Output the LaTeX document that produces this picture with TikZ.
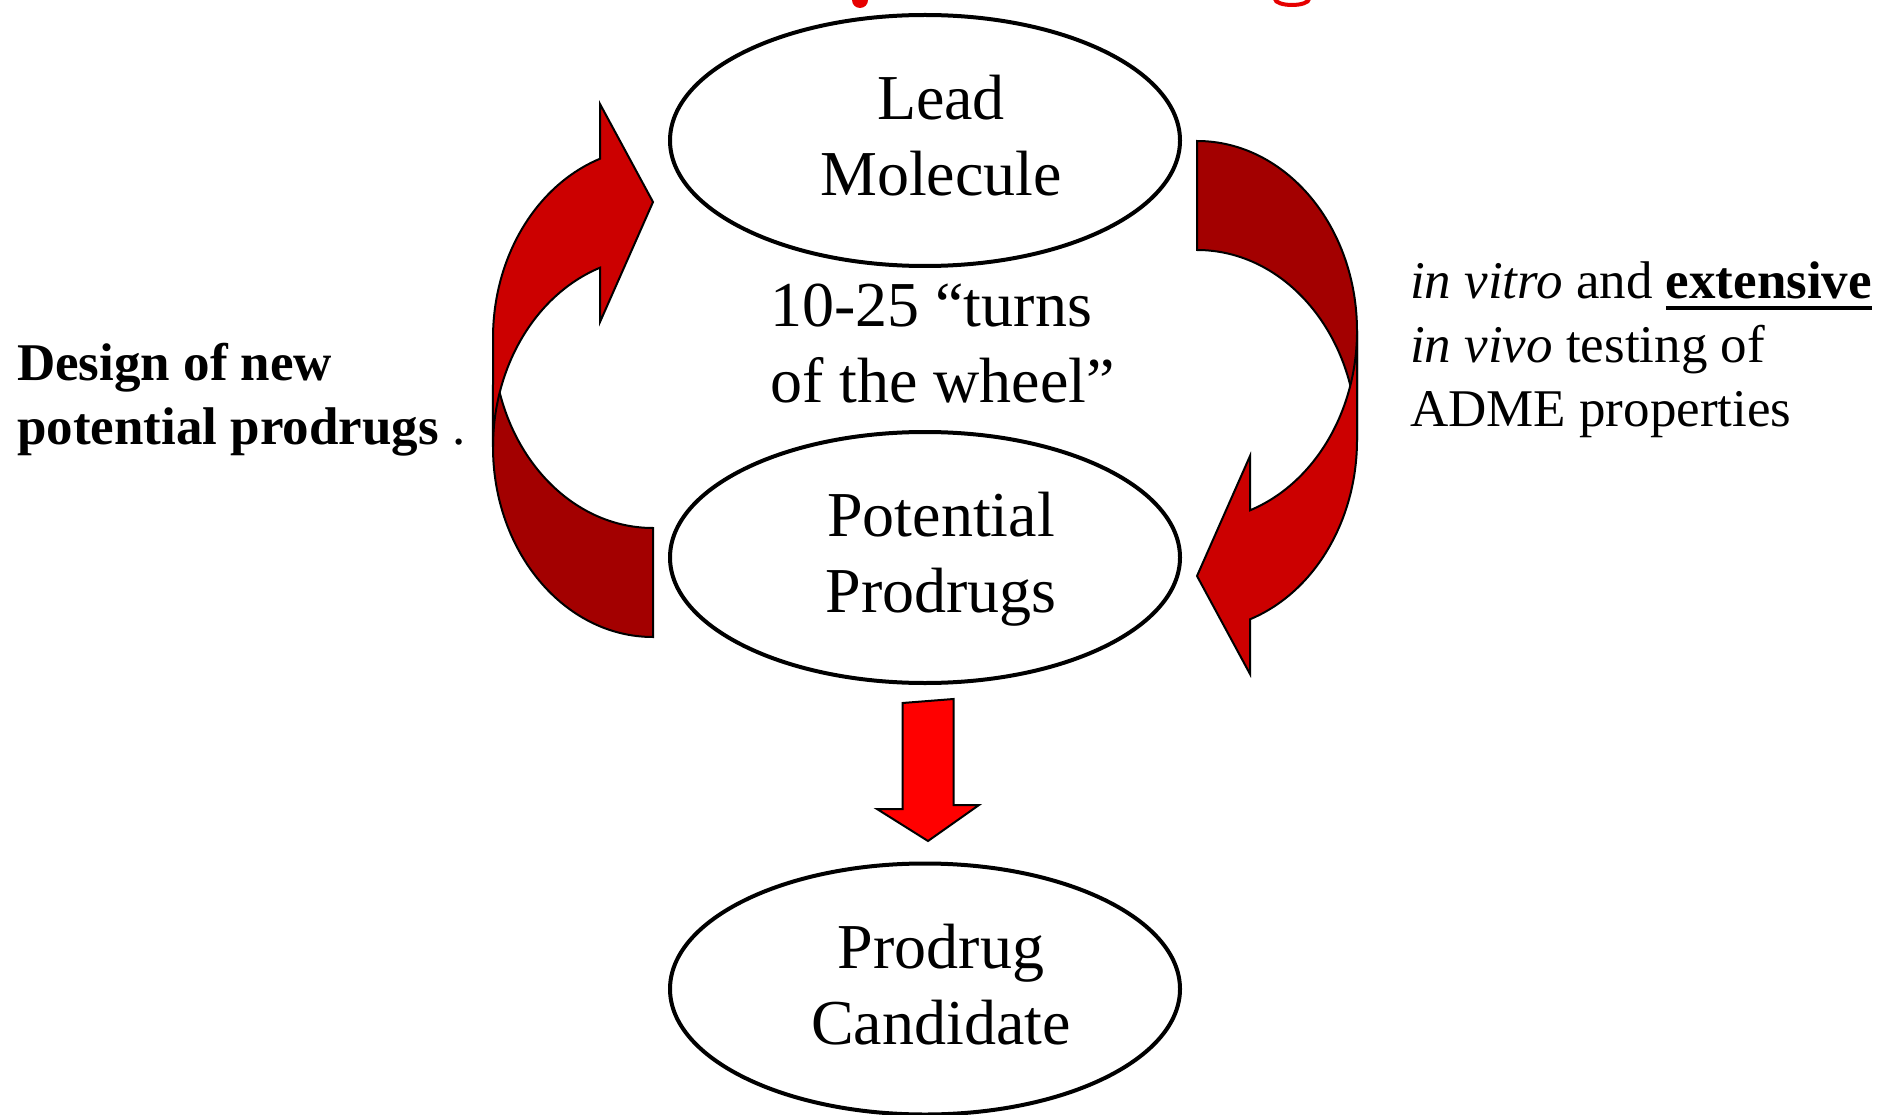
\documentclass[tikz,border=0pt]{standalone}
\usepackage{fontspec}
\setmainfont{Liberation Serif}
\usetikzlibrary{shapes.geometric,calc}
\definecolor{frontred}{RGB}{204,0,0}
\definecolor{backred}{RGB}{163,0,0}
\definecolor{downred}{RGB}{255,0,0}
\definecolor{titlered}{RGB}{230,0,0}
\newcommand\thickul[1]{\setbox0\hbox{#1}\rlap{\rule[-11pt]{\wd0}{4pt}}#1}
\newcommand\cyclearrow{%
  \draw[bandback] (653,-637) arc[start angle=270,end angle=180,x radius=160,y radius=190]
     -- (493,-338) arc[start angle=180,end angle=270,x radius=160,y radius=190] -- cycle;
  \draw[bandfront] (493,-338) arc[start angle=180,end angle=109.34,x radius=160,y radius=190]
     -- (600,-104) -- (653,-202) -- (600,-322) -- (600,-267.7)
     arc[start angle=109.34,end angle=180,x radius=160,y radius=190] -- cycle;}
\begin{document}
\begin{tikzpicture}[x=1pt,y=1pt,
  oval/.style={ellipse, draw, line width=4pt, minimum width=510pt, minimum height=251pt, inner sep=0pt},
  bigtxt/.style={font=\fontsize{64}{76}\selectfont, align=center, inner sep=0pt},
  sidetxt/.style={font=\fontsize{53}{64}\selectfont, align=left, inner sep=0pt, anchor=west},
  bandfront/.style={fill=frontred, draw=black, line width=2pt, line join=miter},
  bandback/.style={fill=backred, draw=black, line width=2pt},
  blockarrow/.style={fill=downred, draw=black, line width=2pt, line join=miter}]
\fill[white] (0,0) rectangle (1882,-1115);
\useasboundingbox (0,0) rectangle (1882,-1115);
% fragments of the cut-off title
\fill[titlered] (852,0) arc[start angle=180,end angle=360,x radius=8,y radius=8] -- cycle;
\draw[titlered, line width=4pt] (1275,1) arc[start angle=180,end angle=360,x radius=17,y radius=6];
% curved arrows
\begin{scope}
  \cyclearrow
\end{scope}
\begin{scope}[rotate around={180:(925,-389)}]
  \cyclearrow
\end{scope}
% ellipses
\node[oval] (lead) at (925,-140.5) {};
\node[oval] (pp) at (925,-557.5) {};
\node[oval] (pc) at (925,-989) {};
\node[bigtxt] (leadtxt) at (941,-136) {Lead\\Molecule};
\node[bigtxt] (pptxt) at (941,-559) {Potential\\Prodrugs};
\node[bigtxt] (pctxt) at (941,-985) {Prodrug\\Candidate};
\node[bigtxt, align=left, anchor=west] (wheel) at (770,-343) {10-25 “turns\\of the wheel”};
% down arrow
\draw[blockarrow] ($(pp.south)+(-22.5,-18)$) -- ++(0,-106) -- ++(-25.5,0)
   -- ($(pc.north)+(3,20.5)$) -- ++(51,36) -- ++(-25.5,0) -- ++(0,106) -- cycle;
% side texts
\node[sidetxt] (design) at (17,-400) {\textbf{Design of new}\\\textbf{potential prodrugs} .};
\node[sidetxt] (testing) at (1410,-350) {\textit{in vitro} and \thickul{\textbf{extensive}}\\\textit{in vivo} testing of\\ADME properties};
\end{tikzpicture}
\end{document}
